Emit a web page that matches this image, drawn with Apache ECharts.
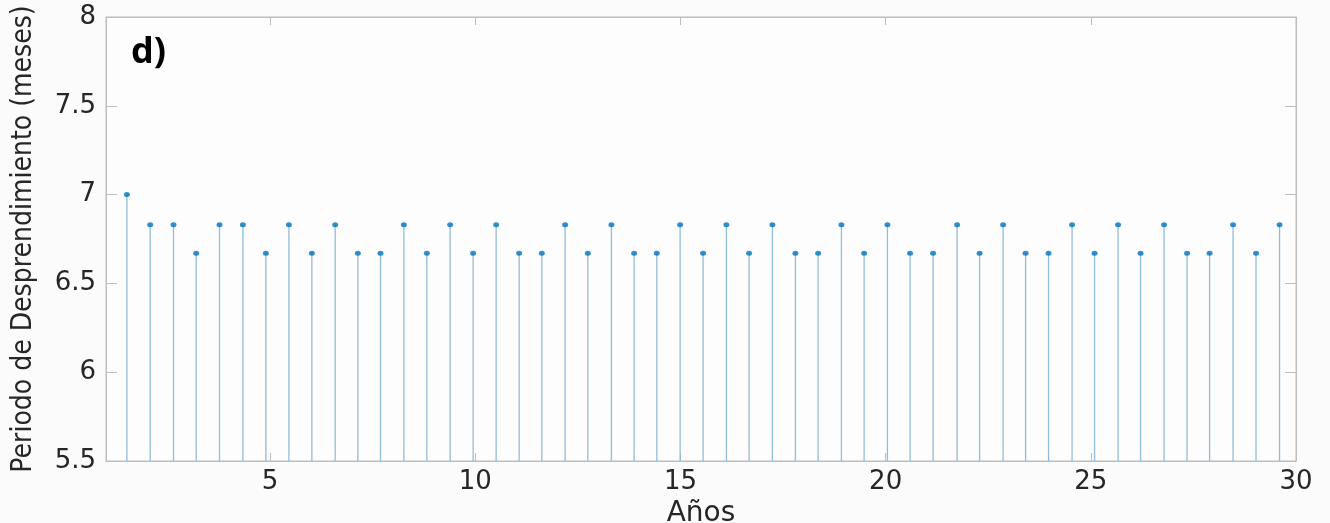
<!DOCTYPE html>
<html>
<head>
<meta charset="utf-8">
<script src="https://cdn.jsdelivr.net/npm/echarts@6/dist/echarts.min.js"></script>
<style>
  html, body { margin: 0; padding: 0; background: #fbfbfb; }
  #chart { width: 1330px; height: 523px; }
</style>
</head>
<body>
<div id="chart"></div>
<script>
// event times (years)
const years = [
  1.509, 2.077, 2.645, 3.198, 3.766, 4.336, 4.896, 5.457, 6.017, 6.585,
  7.138, 7.689, 8.259, 8.819, 9.387, 9.947, 10.508, 11.068, 11.621, 12.189,
  12.742, 13.317, 13.870, 14.423, 14.991, 15.551, 16.119, 16.672, 17.240, 17.801,
  18.354, 18.922, 19.475, 20.043, 20.595, 21.156, 21.741, 22.289, 22.862, 23.410,
  23.970, 24.543, 25.091, 25.664, 26.212, 26.785, 27.345, 27.894, 28.466, 29.026,
  29.599
]
// shedding period (months)
const periods = [
  7.00, 6.83, 6.83, 6.67, 6.83, 6.83, 6.67, 6.83, 6.67, 6.83,
  6.67, 6.67, 6.83, 6.67, 6.83, 6.67, 6.83, 6.67, 6.67, 6.83,
  6.67, 6.83, 6.67, 6.67, 6.83, 6.67, 6.83, 6.67, 6.83, 6.67,
  6.67, 6.83, 6.67, 6.83, 6.67, 6.67, 6.83, 6.67, 6.83, 6.67,
  6.67, 6.83, 6.67, 6.83, 6.67, 6.83, 6.67, 6.67, 6.83, 6.67,
  6.83
]
const xTicks = [5, 10, 15, 20, 25, 30]
const yTicks = [5.5, 6, 6.5, 7, 7.5, 8]

const points = years.map((x, i) => [x, periods[i]])

const chart = echarts.init(document.getElementById('chart'))

const axisGray = '#bdbdbd'
const labelColor = '#262626'

chart.setOption({
  backgroundColor: '#fbfbfb',
  animation: false,
  title: {
    text: 'd)',
    left: 126,
    top: 30,
    textStyle: { fontFamily: 'Open Sans', fontWeight: 'bold', fontSize: 36, color: '#000' },
  },
  grid: {
    left: 106, right: 34, top: 17, bottom: 62,
    outerBoundsMode: 'none', containLabel: false,
    show: true, borderColor: axisGray, borderWidth: 1, backgroundColor: '#fdfdfd',
  },
  xAxis: [
    {
      type: 'value', min: 1, max: 30, interval: 5,
      name: 'Años', nameLocation: 'middle', nameGap: 34,
      nameTextStyle: { fontFamily: 'DejaVu Sans', fontSize: 28, color: labelColor },
      axisLine: { show: true, lineStyle: { color: axisGray } },
      axisTick: { show: true, inside: true, length: 8, lineStyle: { color: axisGray }, customValues: xTicks },
      axisLabel: {
        fontFamily: 'DejaVu Sans', fontSize: 26, color: labelColor, margin: 8,
        customValues: xTicks,
      },
      splitLine: { show: false },
    },
    {
      type: 'value', min: 1, max: 30, interval: 5, position: 'top',
      axisLine: { show: true, lineStyle: { color: axisGray } },
      axisTick: { show: true, inside: true, length: 8, lineStyle: { color: axisGray }, customValues: xTicks },
      axisLabel: { show: false },
      splitLine: { show: false },
    },
  ],
  yAxis: [
    {
      type: 'value', min: 5.5, max: 8, interval: 0.5,
      name: 'Periodo de Desprendimiento (meses)', nameLocation: 'middle', nameGap: 68,
      nameTextStyle: { fontFamily: 'Liberation Sans Narrow, DejaVu Sans Condensed, sans-serif', fontSize: 28, color: labelColor },
      axisLine: { show: true, lineStyle: { color: axisGray } },
      axisTick: { show: true, inside: true, length: 11, lineStyle: { color: axisGray }, customValues: yTicks },
      axisLabel: { fontFamily: 'DejaVu Sans', fontSize: 26, color: labelColor, margin: 10, customValues: yTicks },
      splitLine: { show: false },
    },
    {
      type: 'value', min: 5.5, max: 8, interval: 0.5, position: 'right',
      axisLine: { show: true, lineStyle: { color: axisGray } },
      axisTick: { show: true, inside: true, length: 11, lineStyle: { color: axisGray }, customValues: yTicks },
      axisLabel: { show: false },
      splitLine: { show: false },
    },
  ],
  series: [
    {
      type: 'custom',
      xAxisIndex: 0,
      yAxisIndex: 0,
      data: points,
      renderItem: (params, api) => {
        const top = api.coord([api.value(0), api.value(1)])
        const base = api.coord([api.value(0), 5.5])
        return {
          type: 'line',
          shape: { x1: top[0], y1: top[1], x2: base[0], y2: base[1] },
          style: { stroke: '#93bcd9', lineWidth: 1.3 },
        }
      },
      z: 2,
    },
    {
      type: 'scatter',
      xAxisIndex: 0,
      yAxisIndex: 0,
      data: points,
      symbol: 'circle',
      symbolSize: [6, 5],
      itemStyle: { color: '#0072bd' },
      z: 3,
    },
  ],
})
</script>
</body>
</html>
